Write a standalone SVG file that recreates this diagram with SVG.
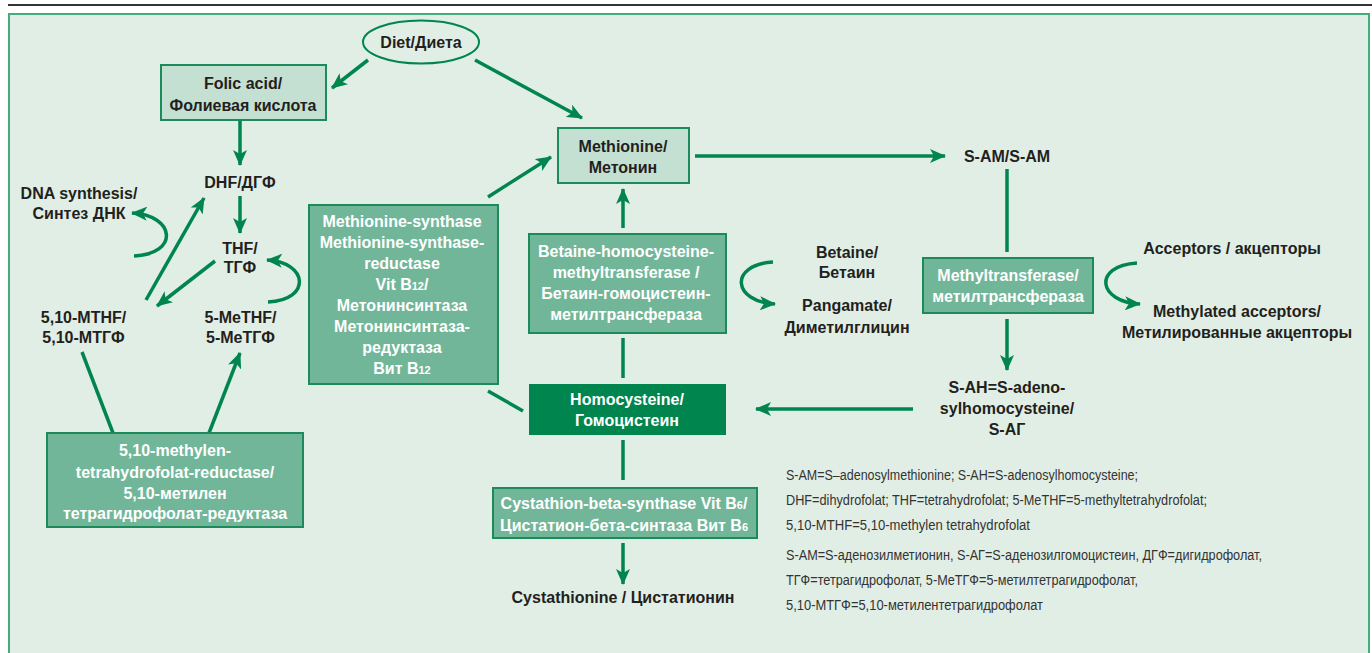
<svg xmlns="http://www.w3.org/2000/svg" width="1372" height="653" viewBox="0 0 1372 653">
<style>
.t{font-family:"Liberation Sans",Arial,sans-serif;font-weight:bold;font-size:16px;fill:#231f20;text-anchor:middle}
.w{fill:#ffffff}
.light{fill:#c4e0d2;stroke:#1b8b5a;stroke-width:2}
.mid{fill:#72b699;stroke:#1b8b5a;stroke-width:2}
.dark{fill:#00854f}
.c{fill:none;stroke:#00854f;stroke-width:3.5}
.fn{font-family:"Liberation Sans Narrow","Liberation Sans",Arial,sans-serif;font-size:15.5px;fill:#333333}
.sub{font-size:11px}
</style>
<defs>
<marker id="ah" viewBox="0 0 16 14" refX="15" refY="7" markerWidth="16" markerHeight="14" orient="auto" markerUnits="userSpaceOnUse">
<path d="M0,0 L16,7 L0,14 L4,7 z" fill="#00854f"/>
</marker>
</defs>
<rect x="0" y="0" width="1372" height="653" fill="#ffffff"/>
<line x1="8" y1="5" x2="1372" y2="5" stroke="#333333" stroke-width="2"/>
<rect x="9" y="14" width="1360" height="660" fill="#e1eee5" stroke="#45ad7b" stroke-width="2"/>

<g id="connectors">
<path class="c" d="M368,60 L332,88" marker-end="url(#ah)"/>
<path class="c" d="M475,60 L582,118" marker-end="url(#ah)"/>
<path class="c" d="M240,121 L240,165" marker-end="url(#ah)"/>
<path class="c" d="M240,196 L240,233" marker-end="url(#ah)"/>
<path class="c" d="M146,300 L204,198" marker-end="url(#ah)"/>
<path class="c" d="M215,261 L157,306" marker-end="url(#ah)"/>
<path class="c" d="M134,256 C180,254 175,215 132,213" marker-end="url(#ah)"/>
<path class="c" d="M268,302 C312,300 308,262 267,260" marker-end="url(#ah)"/>
<path class="c" d="M113,433 L82,352"/>
<path class="c" d="M209,433 L240,353" marker-end="url(#ah)"/>
<path class="c" d="M488,197 L551,157" marker-end="url(#ah)"/>
<path class="c" d="M488,391 L523,411"/>
<path class="c" d="M695,156 L945,156" marker-end="url(#ah)"/>
<path class="c" d="M1007,169 L1007,252"/>
<path class="c" d="M1007,319 L1007,370" marker-end="url(#ah)"/>
<path class="c" d="M913,409 L756,409" marker-end="url(#ah)"/>
<path class="c" d="M1137,263 C1092,266 1098,302 1140,304" marker-end="url(#ah)"/>
<path class="c" d="M773,262 C728,265 733,302 775,304" marker-end="url(#ah)"/>
<path class="c" d="M623,228 L623,189" marker-end="url(#ah)"/>
<path class="c" d="M623,378 L623,338"/>
<path class="c" d="M623,440 L623,480"/>
<path class="c" d="M623,543 L623,584" marker-end="url(#ah)"/>
</g>

<g id="diet">
<ellipse cx="421" cy="42" rx="58" ry="21.5" fill="#e1eee5" stroke="#00854f" stroke-width="2"/>
<text class="t" x="421" y="47.5">Diet/Диета</text>
</g>
<g id="folic">
<rect class="light" x="161" y="65" width="165" height="55"/>
<text class="t" x="243" y="89">Folic acid/</text>
<text class="t" x="243" y="110.5">Фолиевая кислота</text>
</g>
<g id="dhf"><text class="t" x="240" y="187.5">DHF/ДГФ</text></g>
<g id="dna">
<text class="t" x="79" y="198.5">DNA synthesis/</text>
<text class="t" x="79" y="218.5">Синтез ДНК</text>
</g>
<g id="thf">
<text class="t" x="240" y="253.5">THF/</text>
<text class="t" x="240" y="272.5">ТГФ</text>
</g>
<g id="mthf">
<text class="t" x="83.5" y="322.5">5,10-MTHF/</text>
<text class="t" x="83.5" y="342.5">5,10-МТГФ</text>
</g>
<g id="methf">
<text class="t" x="240.5" y="322.5">5-MeTHF/</text>
<text class="t" x="240.5" y="342.5">5-МеТГФ</text>
</g>
<g id="mthfr">
<rect class="mid" x="47" y="433" width="256" height="94"/>
<text class="t w" x="175" y="455.5">5,10-methylen-</text>
<text class="t w" x="175" y="477.5">tetrahydrofolat-reductase/</text>
<text class="t w" x="175" y="498.5">5,10-метилен</text>
<text class="t w" x="175" y="518.5">тетрагидрофолат-редуктаза</text>
</g>
<g id="ms">
<rect class="mid" x="309" y="205" width="189" height="179"/>
<text class="t w" x="402" y="226.5">Methionine-synthase</text>
<text class="t w" x="402" y="247.5">Methionine-synthase-</text>
<text class="t w" x="402" y="268.5">reductase</text>
<text class="t w" x="402" y="289.5">Vit B<tspan class="sub">12</tspan>/</text>
<text class="t w" x="402" y="311">Метонинсинтаза</text>
<text class="t w" x="402" y="332">Метонинсинтаза-</text>
<text class="t w" x="402" y="353">редуктаза</text>
<text class="t w" x="402" y="374">Вит B<tspan class="sub">12</tspan></text>
</g>
<g id="methionine">
<rect class="light" x="558" y="128" width="131" height="55"/>
<text class="t" x="623" y="151.5">Methionine/</text>
<text class="t" x="623" y="172.5">Метонин</text>
</g>
<g id="sam"><text class="t" x="1007" y="161.5">S-AM/S-AM</text></g>
<g id="mt">
<rect class="mid" x="923" y="258" width="170" height="55"/>
<text class="t w" x="1008" y="280.5">Methyltransferase/</text>
<text class="t w" x="1008" y="302">метилтрансфераза</text>
</g>
<g id="sah">
<text class="t" x="1007" y="392.5">S-AH=S-adeno-</text>
<text class="t" x="1007" y="413.5">sylhomocysteine/</text>
<text class="t" x="1007" y="434.5">S-AГ</text>
</g>
<g id="acceptors"><text class="t" x="1232" y="253.5">Acceptors / акцепторы</text></g>
<g id="methylated">
<text class="t" x="1237" y="316.5">Methylated acceptors/</text>
<text class="t" x="1237" y="337.5">Метилированные акцепторы</text>
</g>
<g id="bhmt">
<rect class="mid" x="529" y="234" width="197" height="99"/>
<text class="t w" x="626" y="256.5">Betaine-homocysteine-</text>
<text class="t w" x="626" y="277.5">methyltransferase /</text>
<text class="t w" x="626" y="298.5">Бетаин-гомоцистеин-</text>
<text class="t w" x="626" y="319.5">метилтрансфераза</text>
</g>
<g id="betaine">
<text class="t" x="847" y="257.5">Betaine/</text>
<text class="t" x="847" y="277.5">Бетаин</text>
</g>
<g id="pangamate">
<text class="t" x="847" y="310.5">Pangamate/</text>
<text class="t" x="847" y="332.5">Диметилглицин</text>
</g>
<g id="homocysteine">
<rect class="dark" x="529" y="384" width="197" height="51"/>
<text class="t w" x="627" y="404.5">Homocysteine/</text>
<text class="t w" x="627" y="425.5">Гомоцистеин</text>
</g>
<g id="cbs">
<rect class="mid" x="493" y="488" width="264" height="50"/>
<text class="t w" x="624" y="508.5">Cystathion-beta-synthase Vit B<tspan class="sub">6</tspan>/</text>
<text class="t w" x="624" y="530.5">Цистатион-бета-синтаза Вит B<tspan class="sub">6</tspan></text>
</g>
<g id="cystathionine"><text class="t" x="623" y="602.5">Cystathionine / Цистатионин</text></g>
<g id="footnote">
<text class="fn" x="786" y="480" textLength="352" lengthAdjust="spacingAndGlyphs">S-AM=S–adenosylmethionine; S-AH=S-adenosylhomocysteine;</text>
<text class="fn" x="786" y="505" textLength="421" lengthAdjust="spacingAndGlyphs">DHF=dihydrofolat; THF=tetrahydrofolat; 5-MeTHF=5-methyltetrahydrofolat;</text>
<text class="fn" x="786" y="530" textLength="244" lengthAdjust="spacingAndGlyphs">5,10-MTHF=5,10-methylen tetrahydrofolat</text>
<text class="fn" x="786" y="560" textLength="476" lengthAdjust="spacingAndGlyphs">S-AM=S-аденозилметионин, S-AГ=S-аденозилгомоцистеин, ДГФ=дигидрофолат,</text>
<text class="fn" x="786" y="585" textLength="352" lengthAdjust="spacingAndGlyphs">ТГФ=тетрагидрофолат, 5-MeТГФ=5-метилтетрагидрофолат,</text>
<text class="fn" x="786" y="610" textLength="257" lengthAdjust="spacingAndGlyphs">5,10-MТГФ=5,10-метилентетрагидрофолат</text>
</g>
</svg>
